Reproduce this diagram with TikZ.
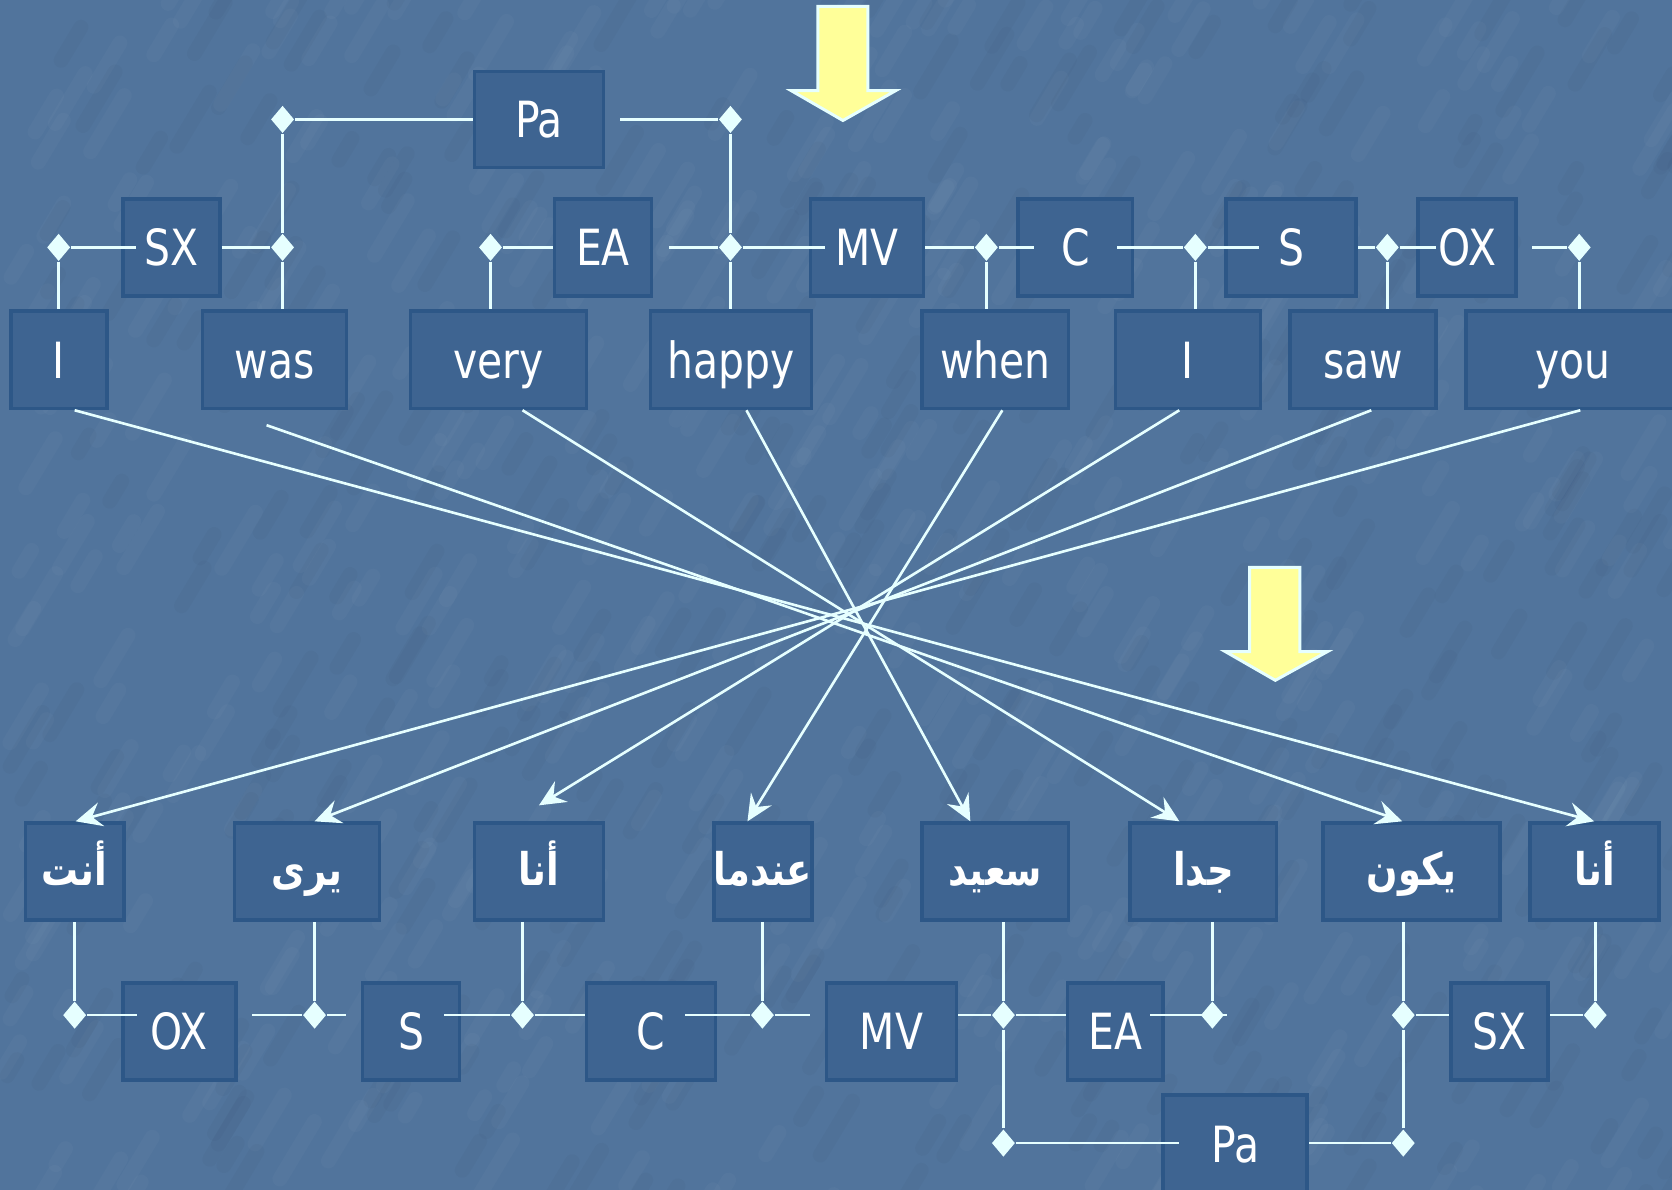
\documentclass[tikz,border=0pt]{standalone}
\usepackage{fontspec}
\setmainfont{DejaVu Sans}[FakeStretch=0.82]
\newfontfamily\arabicfont[Script=Arabic,FakeStretch=0.82]{DejaVu Sans}
\TeXXeTstate=1
\usetikzlibrary{shapes.geometric,arrows.meta}
\definecolor{bg}{HTML}{51749C}
\definecolor{boxf}{HTML}{3E6491}
\definecolor{boxd}{HTML}{2D5787}
\definecolor{linec}{HTML}{E6FFFF}
\definecolor{yel}{HTML}{FFFF99}
\tikzset{
  bx/.style={draw=boxd, fill=boxf, line width=1pt, text=white, inner sep=0pt,
    font=\fontsize{13.3}{15}\selectfont, text height=9.7pt, text depth=0pt},
  sz/.style 2 args={minimum width=#1*0.01cm, minimum height=#2*0.01cm},
  ar/.style={draw=boxd, fill=boxf, line width=1pt, text=white, inner sep=0pt,
    font=\fontsize{12}{14}\selectfont\arabicfont\bfseries, text height=8pt, text depth=0.5pt},
  dm/.style={diamond, fill=linec, inner sep=0pt, minimum width=0.22cm, minimum height=0.26cm},
  conn/.style={draw=linec, line width=0.7pt},
  arr/.style={conn, -{Stealth[length=7pt,width=6.5pt,inset=2.5pt]}},
  yarrow/.style={fill=yel, draw=linec, line width=0.8pt, line join=miter},
  streak/.style={line cap=round, line width=4pt}
}
\begin{document}
\begin{tikzpicture}[x=0.01cm,y=-0.01cm]
\useasboundingbox (0,0) rectangle (1568,1116);
\fill[bg] (0,0) rectangle (1568,1116);

% subtle background texture
\pgfmathsetseed{11}
\foreach \i in {1,...,500}{
  \pgfmathsetmacro\xx{rnd*1600}
  \pgfmathsetmacro\yy{rnd*1150}
  \pgfmathsetmacro\ll{15+rnd*40}
  \draw[streak, white, opacity=0.025] (\xx,\yy) -- ++(0.6*\ll,-\ll);
}
\foreach \i in {1,...,400}{
  \pgfmathsetmacro\xx{rnd*1600}
  \pgfmathsetmacro\yy{rnd*1150}
  \pgfmathsetmacro\ll{15+rnd*40}
  \draw[streak, black, opacity=0.02] (\xx,\yy) -- ++(0.6*\ll,-\ll);
}

% yellow arrows
\draw[yarrow] (767,6) -- (814,6) -- (814,85) -- (840,85) -- (790.5,113) -- (742,85) -- (767,85) -- cycle;
\draw[yarrow] (1172,532) -- (1219,532) -- (1219,611) -- (1245,611) -- (1196,638) -- (1149,611) -- (1172,611) -- cycle;

% top label boxes
\node[bx,sz={121}{90}] (tPa) at (505.5,112) {Pa};
\node[bx,sz={91}{91}] (tSX) at (160.5,232) {SX};
\node[bx,sz={91}{91}] (tEA) at (565.5,232) {EA};
\node[bx,sz={106}{91}] (tMV) at (813,232) {MV};
\node[bx,sz={107}{91}] (tC) at (1008.5,232) {C};
\node[bx,sz={122}{91}] (tS) at (1211,232) {S};
\node[bx,sz={92}{91}] (tOX) at (1376,232) {OX};

% top word boxes
\node[bx,sz={90}{91}] (wI) at (55,337.5) {I};
\node[bx,sz={135}{91}] (wWas) at (257.5,337.5) {was};
\node[bx,sz={165}{91}] (wVery) at (467.5,337.5) {very};
\node[bx,sz={151}{91}] (wHappy) at (685.5,337.5) {happy};
\node[bx,sz={137}{91}] (wWhen) at (933.5,337.5) {when};
\node[bx,sz={136}{91}] (wI2) at (1114,337.5) {I};
\node[bx,sz={137}{91}] (wSaw) at (1278.5,337.5) {saw};
\node[bx,sz={200}{91}] (wYou) at (1475,337.5) {you};

% bottom Arabic word boxes
\node[ar,sz={92}{91}] (aAnt) at (70,817.5) {\beginR أنت\endR};
\node[ar,sz={136}{91}] (aYara) at (288,817.5) {\beginR يرى\endR};
\node[ar,sz={121}{91}] (aAna) at (505.5,817.5) {\beginR أنا\endR};
\node[ar,sz={91}{91}] (aInd) at (715.5,817.5) {\beginR عندما\endR};
\node[ar,sz={137}{91}] (aSaeed) at (933.5,817.5) {\beginR سعيد\endR};
\node[ar,sz={137}{91}] (aJid) at (1128.5,817.5) {\beginR جدا\endR};
\node[ar,sz={166}{91}] (aYakun) at (1324,817.5) {\beginR يكون\endR};
\node[ar,sz={121}{91}] (aAna2) at (1495.5,817.5) {\beginR أنا\endR};

% bottom label boxes
\node[bx,sz={106}{91}] (bOX) at (168,967.5) {OX};
\node[bx,sz={91}{91}] (bS) at (385.5,967.5) {S};
\node[bx,sz={121}{91}] (bC) at (610.5,967.5) {C};
\node[bx,sz={122}{91}] (bMV) at (836,967.5) {MV};
\node[bx,sz={90}{91}] (bEA) at (1046,967.5) {EA};
\node[bx,sz={91}{91}] (bSX) at (1406.5,967.5) {SX};
\node[bx,sz={135}{92}] (bPa) at (1158.5,1073) {Pa};

% top diamonds
\node[dm] (dI) at (55,232) {};
\node[dm] (dWas) at (265,232) {};
\node[dm] (dPaL) at (265,112) {};
\node[dm] (dPaR) at (685,112) {};
\node[dm] (dVery) at (460,232) {};
\node[dm] (dHappy) at (685,232) {};
\node[dm] (dWhen) at (925,232) {};
\node[dm] (dI2) at (1121,232) {};
\node[dm] (dSaw) at (1301,232) {};
\node[dm] (dYou) at (1481,232) {};

% bottom diamonds
\node[dm] (dAnt) at (70,952) {};
\node[dm] (dYara) at (295,952) {};
\node[dm] (dAna) at (490,952) {};
\node[dm] (dInd) at (715,952) {};
\node[dm] (dSaeed) at (941,952) {};
\node[dm] (dJid) at (1137,952) {};
\node[dm] (dYakun) at (1316,952) {};
\node[dm] (dAna2) at (1496,952) {};
\node[dm] (dPaL2) at (941,1072) {};
\node[dm] (dPaR2) at (1316,1072) {};

% top connectors
\draw[conn] (dI) -- ([xshift=0.14cm]tSX.west);
\draw[conn] (dI) -- (dI |- wI.north);
\draw[conn] (tSX.east) -- (dWas);
\draw[conn] (dWas) -- (dWas |- wWas.north);
\draw[conn] (dWas) -- (dPaL);
\draw[conn] (dPaL) -- (tPa.west);
\draw[conn] ([xshift=0.14cm]tPa.east) -- (dPaR);
\draw[conn] (dPaR) -- (dHappy);
\draw[conn] (dHappy) -- (dHappy |- wHappy.north);
\draw[conn] (dVery) -- (tEA.west);
\draw[conn] (dVery) -- (dVery |- wVery.north);
\draw[conn] ([xshift=0.15cm]tEA.east) -- (dHappy);
\draw[conn] (dHappy) -- ([xshift=0.15cm]tMV.west);
\draw[conn] (tMV.east) -- (dWhen);
\draw[conn] (dWhen) -- ([xshift=0.16cm]tC.west);
\draw[conn] (dWhen) -- (dWhen |- wWhen.north);
\draw[conn] ([xshift=-0.16cm]tC.east) -- (dI2);
\draw[conn] (dI2) -- ([xshift=0.32cm]tS.west);
\draw[conn] (dI2) -- (dI2 |- wI2.north);
\draw[conn] (tS.east) -- (dSaw);
\draw[conn] (dSaw) -- ([xshift=0.18cm]tOX.west);
\draw[conn] (dSaw) -- (dSaw |- wSaw.north);
\draw[conn] ([xshift=0.13cm]tOX.east) -- (dYou);
\draw[conn] (dYou) -- (dYou |- wYou.north);

% bottom connectors
\draw[conn] (dAnt) -- (dAnt |- aAnt.south);
\draw[conn] (dAnt) -- ([xshift=0.15cm]bOX.west |- dAnt);
\draw[conn] ([xshift=0.14cm]bOX.east |- dYara) -- (dYara);
\draw[conn] (dYara) -- (dYara |- aYara.south);
\draw[conn] (dYara) -- ([xshift=-0.14cm]bS.west |- dYara);
\draw[conn] ([xshift=-0.16cm]bS.east |- dAna) -- (dAna);
\draw[conn] (dAna) -- (dAna |- aAna.south);
\draw[conn] (dAna) -- (bC.west |- dAna);
\draw[conn] ([xshift=-0.30cm]bC.east |- dInd) -- (dInd);
\draw[conn] (dInd) -- (dInd |- aInd.south);
\draw[conn] (dInd) -- ([xshift=-0.14cm]bMV.west |- dInd);
\draw[conn] (bMV.east |- dSaeed) -- (dSaeed);
\draw[conn] (dSaeed) -- (dSaeed |- aSaeed.south);
\draw[conn] (dSaeed) -- (bEA.west |- dSaeed);
\draw[conn] ([xshift=-0.14cm]bEA.east |- dJid) -- ([xshift=0.14cm]dJid.center);
\draw[conn] (dJid) -- (dJid |- aJid.south);
\draw[conn] (dSaeed) -- (dPaL2);
\draw[conn] (dPaL2) -- ([xshift=0.16cm]bPa.west |- dPaL2);
\draw[conn] (bPa.east |- dPaR2) -- (dPaR2);
\draw[conn] (dPaR2) -- (dYakun);
\draw[conn] (dYakun) -- (dYakun |- aYakun.south);
\draw[conn] (dYakun) -- (bSX.west |- dYakun);
\draw[conn] (bSX.east |- dAna2) -- (dAna2);
\draw[conn] (dAna2) -- (dAna2 |- aAna2.south);

% crossing arrows
\draw[arr] ([xshift=0.15cm]wI.south) -- ([xshift=-0.005cm]aAna2.north);
\draw[arr] ([xshift=-0.075cm,yshift=-0.14cm]wWas.south) -- ([xshift=-0.09cm]aYakun.north);
\draw[arr] ([xshift=0.225cm]wVery.south) -- ([xshift=-0.225cm]aJid.north);
\draw[arr] ([xshift=0.145cm]wHappy.south) -- ([xshift=-0.235cm]aSaeed.north);
\draw[arr] ([xshift=0.065cm]wWhen.south) -- ([xshift=-0.145cm]aInd.north);
\draw[arr] ([xshift=-0.08cm]wI2.south) -- ([yshift=0.15cm]aAna.north);
\draw[arr] ([xshift=0.075cm]wSaw.south) -- ([xshift=0.07cm]aYara.north);
\draw[arr] ([xshift=0.07cm]wYou.south) -- ([xshift=0.01cm]aAnt.north);
\end{tikzpicture}
\end{document}
